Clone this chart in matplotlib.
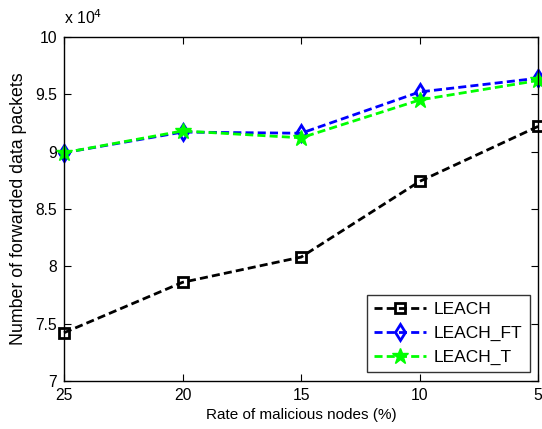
import matplotlib
matplotlib.use("Agg")
import matplotlib.pyplot as plt

plt.rcParams['font.family'] = ['Liberation Sans', 'DejaVu Sans']

x_labels = ['25', '20', '15', '10', '5']
leach = [7.42, 7.86, 8.08, 8.74, 9.22]
leach_ft = [8.99, 9.17, 9.16, 9.52, 9.64]
leach_t = [8.99, 9.18, 9.12, 9.45, 9.62]

FS = 11.3
LS = (0, (2.9, 1.5))
fig = plt.figure(figsize=(5.42, 4.29), dpi=100)
ax = fig.add_axes([0.118, 0.112, 0.875, 0.802])
xs = list(range(len(x_labels)))

ax.plot(xs, leach, linestyle=LS, color='black', lw=2, marker='s', ms=7.5, mfc='none', mec='black', mew=2, label='LEACH', clip_on=False)
ax.plot(xs, leach_ft, linestyle=LS, color='blue', lw=2, marker='d', ms=8, mfc='none', mec='blue', mew=2, label='LEACH_FT', clip_on=False)
ax.plot(xs, leach_t, linestyle=LS, color='#00ff00', lw=2, marker='*', ms=12, mfc='#00ff00', mec='#00ff00', label='LEACH_T', clip_on=False)

ax.set_xlim(0, 4)
ax.set_ylim(7, 10)
ax.set_xticks(xs)
ax.set_xticklabels(x_labels)
ax.set_yticks([7, 7.5, 8, 8.5, 9, 9.5, 10])
ax.set_yticklabels(['7', '7.5', '8', '8.5', '9', '9.5', '10'])
ax.tick_params(direction='in', top=True, right=True, labelsize=FS, length=5, pad=5)
for s in ax.spines.values():
    s.set_linewidth(1)

ax.set_xlabel('Rate of malicious nodes (%)', fontsize=11, labelpad=4)
ax.set_ylabel('Number of forwarded data packets', fontsize=12.8, labelpad=6)
ax.text(0.0, 1.03, r'x 10$^4$', transform=ax.transAxes, fontsize=FS, ha='left', va='bottom')

leg = ax.legend(loc='lower right', fontsize=12.5, fancybox=False, edgecolor='black',
                borderaxespad=0.5, handlelength=3.0, labelspacing=0.5, handletextpad=0.45,
                borderpad=0.4)
leg.get_frame().set_linewidth(1)

fig.savefig('out.png', dpi=100)
